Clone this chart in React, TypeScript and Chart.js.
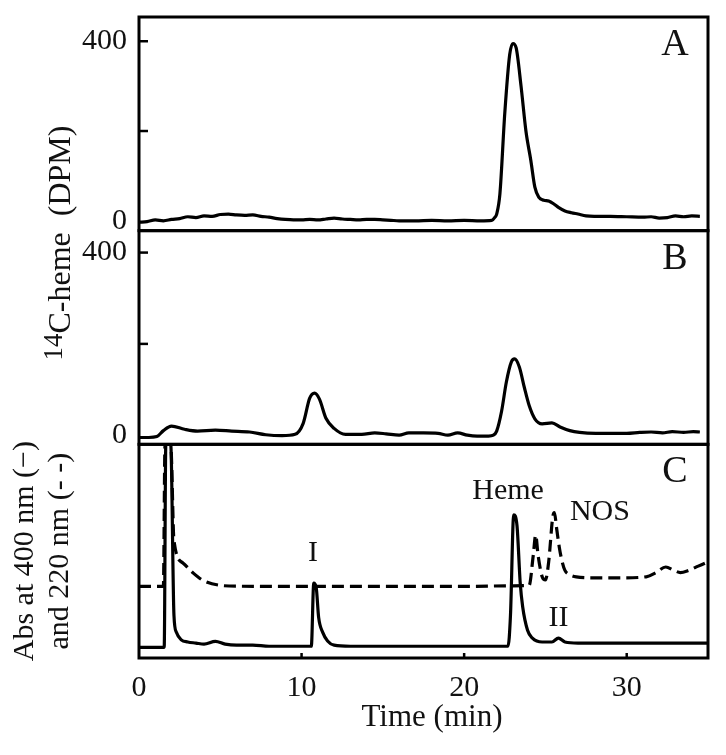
import React, { useEffect, useRef } from 'react';
import { Chart, registerables } from 'chart.js';

Chart.register(...registerables);

const FONT = "'Liberation Serif', 'Times New Roman', serif";
const INK = '#111';

// ---------- Panel A : 14C-heme (DPM) ----------
const timeA = [0, 0.5, 1, 1.5, 2, 2.5, 3, 3.5, 4, 4.5, 5, 5.5, 6, 6.5, 7, 7.5, 8, 8.5, 9, 9.5, 10, 10.5, 11, 11.5, 12, 12.5, 13, 13.5, 14, 14.5, 15, 15.5, 16, 17, 18, 19, 20, 21, 21.7, 21.9, 22.0, 22.2, 22.5, 22.8, 23.0, 23.2, 23.5, 23.8, 24.1, 24.35, 24.6, 24.9, 25.2, 25.5, 25.8, 26.2, 26.6, 27, 27.5, 28, 29, 30, 31, 31.5, 32, 32.5, 33, 33.5, 34, 34.5];
const dpmA = [-3, -2, 2, 0, 3, 5, 9, 7, 11, 10, 14, 15, 13, 12, 13, 10, 8, 5, 3, 2, 2, 3, 2, 4, 6, 4, 3, 2, 3, 3, 2, 1, 0, 0, 1, 0, 1, 0, 1, 8, 15, 60, 240, 370, 395, 385, 300, 200, 135, 75, 52, 46, 44, 38, 30, 22, 18, 15, 11, 10, 10, 9, 8, 9, 6, 7, 11, 9, 11, 10];

// ---------- Panel B : 14C-heme (DPM) ----------
const timeB = [0, 0.6, 1.1, 1.5, 2.0, 2.8, 3.6, 4.7, 5.7, 6.8, 7.8, 8.8, 9.6, 10.1, 10.5, 10.8, 11.1, 11.5, 12.0, 12.7, 13.7, 14.5, 15.2, 16.0, 16.6, 17.5, 18.4, 19.0, 19.6, 20.2, 20.8, 21.5, 21.8, 22.0, 22.3, 22.6, 22.9, 23.1, 23.4, 23.7, 24.0, 24.35, 24.8, 25.4, 25.9, 26.5, 27.1, 28.1, 29.0, 30.0, 30.8, 31.5, 32.2, 32.8, 33.5, 34.1, 34.5];
const dpmB = [-5, -5, -3, 10, 20, 13, 9, 11, 9, 7, 1, -1, 2, 26, 81, 92, 79, 37, 15, 2, 2, 5, 3, 0, 5, 5, 4, 0, 5, 0, -2, -2, 0, 9, 52, 117, 160, 167, 149, 105, 65, 36, 25, 27, 18, 10, 6, 4, 4, 4, 6, 7, 5, 8, 6, 8, 7];

// ---------- Panel C : absorbance (arbitrary units) ----------
const timeC400 = [0, 1.55, 1.65, 1.95, 2.15, 2.3, 2.6, 3.0, 3.5, 4.0, 4.7, 5.3, 6, 7, 8, 9, 10, 10.6, 10.75, 10.9, 11.05, 11.3, 11.6, 12.0, 13, 15, 17, 19, 21, 22.7, 22.85, 23.05, 23.25, 23.45, 23.6, 23.9, 24.2, 24.8, 25.4, 25.8, 26.2, 27, 29, 31, 33, 35];
const abs400 = [5, 5, 100, 100, 20, 12, 8.5, 7.5, 7, 6.5, 7.8, 6.5, 6, 6, 5.5, 5.5, 5.5, 5.5, 35, 33, 19, 12, 8, 6, 5.5, 5.5, 5.5, 5.5, 5.5, 5.6, 20, 67, 62, 35, 24, 13, 9.3, 7.5, 7.5, 9.3, 7.5, 7, 7, 7, 7, 7];

const timeC220 = [0, 1.5, 1.6, 1.95, 2.15, 2.7, 3.3, 3.9, 5.0, 6.2, 10, 15, 20, 23, 24.0, 24.25, 24.4, 24.55, 24.8, 25.0, 25.2, 25.45, 25.55, 25.7, 25.85, 26.0, 26.2, 26.5, 26.9, 28, 29.5, 31.2, 31.8, 32.4, 32.9, 33.3, 33.8, 34.4, 35];
const abs220 = [33.5, 33.5, 100, 100, 55, 44.5, 40, 36.5, 34, 33.6, 33.5, 33.5, 33.5, 33.8, 34, 48, 57.5, 48, 38, 36.5, 45, 66, 68, 60, 52, 46, 41, 39, 38, 37.5, 37.5, 38, 40, 42.6, 41, 40, 41, 43, 45];

// ---------- Ticks & labels ----------
const xTicks = [0, 10, 20, 30];
const dpmTicks = [0, 200, 400];
const dpmTickLabels = ['0', '', '400'];
const panelLabels = ['A', 'B', 'C'];
const peakLabels = ['Heme', 'NOS', 'I', 'II'];
const peakLabelTimes = [22.7, 28.35, 10.7, 25.8];
const peakLabelAbs = [78, 68.3, 49, 18.7];
const xTitle = 'Time (min)';
const dpmTitleSup = '14';
const dpmTitleMain = 'C-heme  (DPM)';
const absTitle = ['Abs at 400 nm (\u2212)', 'and 220 nm (- -)'];

const pts = (t: number[], v: number[]) => t.map((x, i) => ({ x, y: v[i] }));

const decorPlugin = {
  id: 'decor',
  afterDatasetsDraw(chart: any) {
    const { ctx, chartArea, scales } = chart;
    const xs = scales.x;
    const panels = [scales.yA, scales.yB, scales.yC];
    const line = (x1: number, y1: number, x2: number, y2: number) => {
      ctx.beginPath();
      ctx.moveTo(x1, y1);
      ctx.lineTo(x2, y2);
      ctx.stroke();
    };
    ctx.save();
    ctx.strokeStyle = '#000';
    ctx.lineWidth = 3;
    panels.forEach((p: any) =>
      ctx.strokeRect(chartArea.left, p.top, chartArea.right - chartArea.left, p.bottom - p.top)
    );
    // inward y tick marks
    ctx.lineWidth = 2.5;
    [scales.yA, scales.yB].forEach((s: any) =>
      dpmTicks.forEach((v) => {
        if (v === 0) return;
        const py = s.getPixelForValue(v);
        line(chartArea.left, py, chartArea.left + 9, py);
      })
    );
    // inward x tick marks
    xTicks.forEach((v) => {
      if (v === 0) return;
      const px = xs.getPixelForValue(v);
      line(px, chartArea.bottom, px, chartArea.bottom - 5);
    });

    ctx.fillStyle = INK;
    ctx.textAlign = 'center';
    ctx.textBaseline = 'middle';
    // panel letters
    ctx.font = `38px ${FONT}`;
    panels.forEach((p: any, i: number) => {
      ctx.fillText(panelLabels[i], chartArea.right - 33, p.top + 28);
    });
    // peak labels
    ctx.font = `30px ${FONT}`;
    peakLabels.forEach((t, i) => {
      ctx.fillText(t, xs.getPixelForValue(peakLabelTimes[i]), scales.yC.getPixelForValue(peakLabelAbs[i]));
    });
    // x title
    ctx.font = `31px ${FONT}`;
    ctx.fillText(xTitle, 432, 718);

    // y title for panels A & B
    ctx.save();
    ctx.translate(70, 243);
    ctx.rotate(-Math.PI / 2);
    ctx.textAlign = 'left';
    ctx.textBaseline = 'alphabetic';
    ctx.font = `27px ${FONT}`;
    const w14 = ctx.measureText(dpmTitleSup).width;
    ctx.font = `32px ${FONT}`;
    const wMain = ctx.measureText(dpmTitleMain).width;
    const start = -(w14 + wMain) / 2;
    ctx.font = `27px ${FONT}`;
    ctx.fillText(dpmTitleSup, start, -8);
    ctx.font = `32px ${FONT}`;
    ctx.fillText(dpmTitleMain, start + w14, 0);
    ctx.restore();

    ctx.restore();
  },
};

const tickFont = { family: FONT, size: 30, lineHeight: 1 };

const fixY = (w: number) => (s: any) => {
  s.width = w;
  s.paddingTop = 0;
  s.paddingBottom = 0;
};

export default function App() {
  const ref = useRef<HTMLCanvasElement>(null);

  useEffect(() => {
    if (!ref.current) return;
    const dpmAxis = (min: number, max: number) => ({
      type: 'linear' as const,
      position: 'left' as const,
      stack: 'panels',
      stackWeight: 1,
      min,
      max,
      grid: { display: false, drawTicks: false },
      border: { display: false },
      afterBuildTicks: (s: any) => {
        s.ticks = dpmTicks.map((v) => ({ value: v }));
      },
      ticks: {
        font: tickFont,
        color: INK,
        padding: 12,
        autoSkip: false,
        callback: (_v: any, i: number) => dpmTickLabels[i],
      },
      afterFit: fixY(139),
    });

    const chart = new Chart(ref.current, {
      type: 'line',
      data: {
        datasets: [
          { data: pts(timeA, dpmA), yAxisID: 'yA' },
          { data: pts(timeB, dpmB), yAxisID: 'yB' },
          { data: pts(timeC400, abs400), yAxisID: 'yC' },
          { data: pts(timeC220, abs220), yAxisID: 'yC', borderDash: [12, 6] },
        ] as any,
      },
      options: {
        animation: false,
        responsive: false,
        devicePixelRatio: 1,
        layout: { padding: { left: 0, right: 18, top: 17, bottom: 0 } },
        plugins: { legend: { display: false }, tooltip: { enabled: false } },
        elements: {
          point: { radius: 0 },
          line: {
            cubicInterpolationMode: 'monotone',
            borderWidth: 3.2,
            borderColor: '#000',
            fill: false,
            borderJoinStyle: 'round',
          },
        },
        scales: {
          x: {
            type: 'linear',
            position: 'bottom',
            min: 0,
            max: 35,
            grid: { display: false, drawTicks: false },
            border: { display: false },
            afterBuildTicks: (s: any) => {
              s.ticks = xTicks.map((v) => ({ value: v }));
            },
            ticks: { font: { family: FONT, size: 30, lineHeight: 1.2 }, color: INK, padding: 12, maxRotation: 0, autoSkip: false },
            afterFit: (s: any) => {
              s.height = 97;
              s.paddingLeft = 0;
              s.paddingRight = 0;
            },
          },
          yC: {
            type: 'linear',
            position: 'left',
            stack: 'panels',
            stackWeight: 1,
            min: 0,
            max: 100,
            grid: { display: false, drawTicks: false },
            border: { display: false },
            ticks: { display: false },
            title: {
              display: true,
              text: absTitle,
              color: INK,
              font: { family: FONT, size: 30, lineHeight: 1.167 },
              padding: { top: 7.5, bottom: 0 },
            },
            afterFit: fixY(139),
          },
          yB: dpmAxis(-20, 448),
          yA: dpmAxis(-22, 454),
        } as any,
      },
      plugins: [decorPlugin],
    });
    return () => chart.destroy();
  }, []);

  return (
    <div style={{ position: 'absolute', left: 0, top: 0, width: 726, height: 755, background: '#fff' }}>
      <canvas ref={ref} width={726} height={755} style={{ display: 'block', width: 726, height: 755 }} />
    </div>
  );
}
